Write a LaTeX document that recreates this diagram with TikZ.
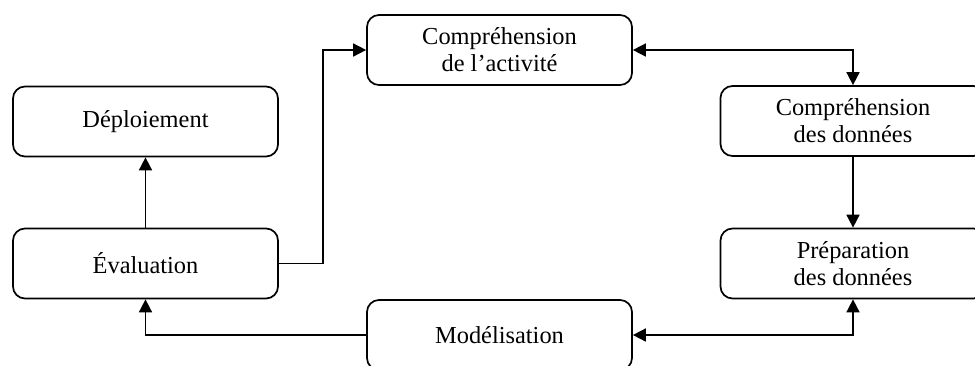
\documentclass[tikz,border=0pt]{standalone}
\usepackage{fontspec}
\setmainfont{Liberation Serif}
\usetikzlibrary{arrows.meta}
\begin{document}
\begin{tikzpicture}[x=0.5pt,y=-0.5pt,
  box/.style={draw, line width=0.85pt, rounded corners=6pt, minimum width=132.5pt, minimum height=35pt, align=center, inner sep=0pt, font=\fontsize{12.2}{13.6}\selectfont},
  conn/.style={line width=0.8pt, -{Triangle[length=6.5pt,width=6.5pt]}},
  bconn/.style={line width=0.8pt, {Triangle[length=6.5pt,width=6.5pt]}-{Triangle[length=6.5pt,width=6.5pt]}}]
\useasboundingbox (0,0) rectangle (975,365);
\clip (0,0) rectangle (975,365);
\node[box] (act) at (499.5,50) {Compréhension\\de l’activité};
\node[box] (don) at (853,121) {Compréhension\\des données};
\node[box] (prep) at (853,263.5) {Préparation\\des données};
\node[box] (mod) at (499.5,335) {Modélisation};
\node[box] (dep) at (145.5,121.5) {Déploiement};
\node[box] (eva) at (145.5,263.5) {Évaluation};
\draw[conn] (eva.east) -- ++(44,0) |- (act.west);
\draw[bconn] (act.east) -| (don.north);
\draw[conn] (don.south) -- (prep.north);
\draw[bconn] (mod.east) -| (prep.south);
\draw[conn] (mod.west) -| (eva.south);
\draw[conn] (eva.north) -- (dep.south);
\end{tikzpicture}
\end{document}
